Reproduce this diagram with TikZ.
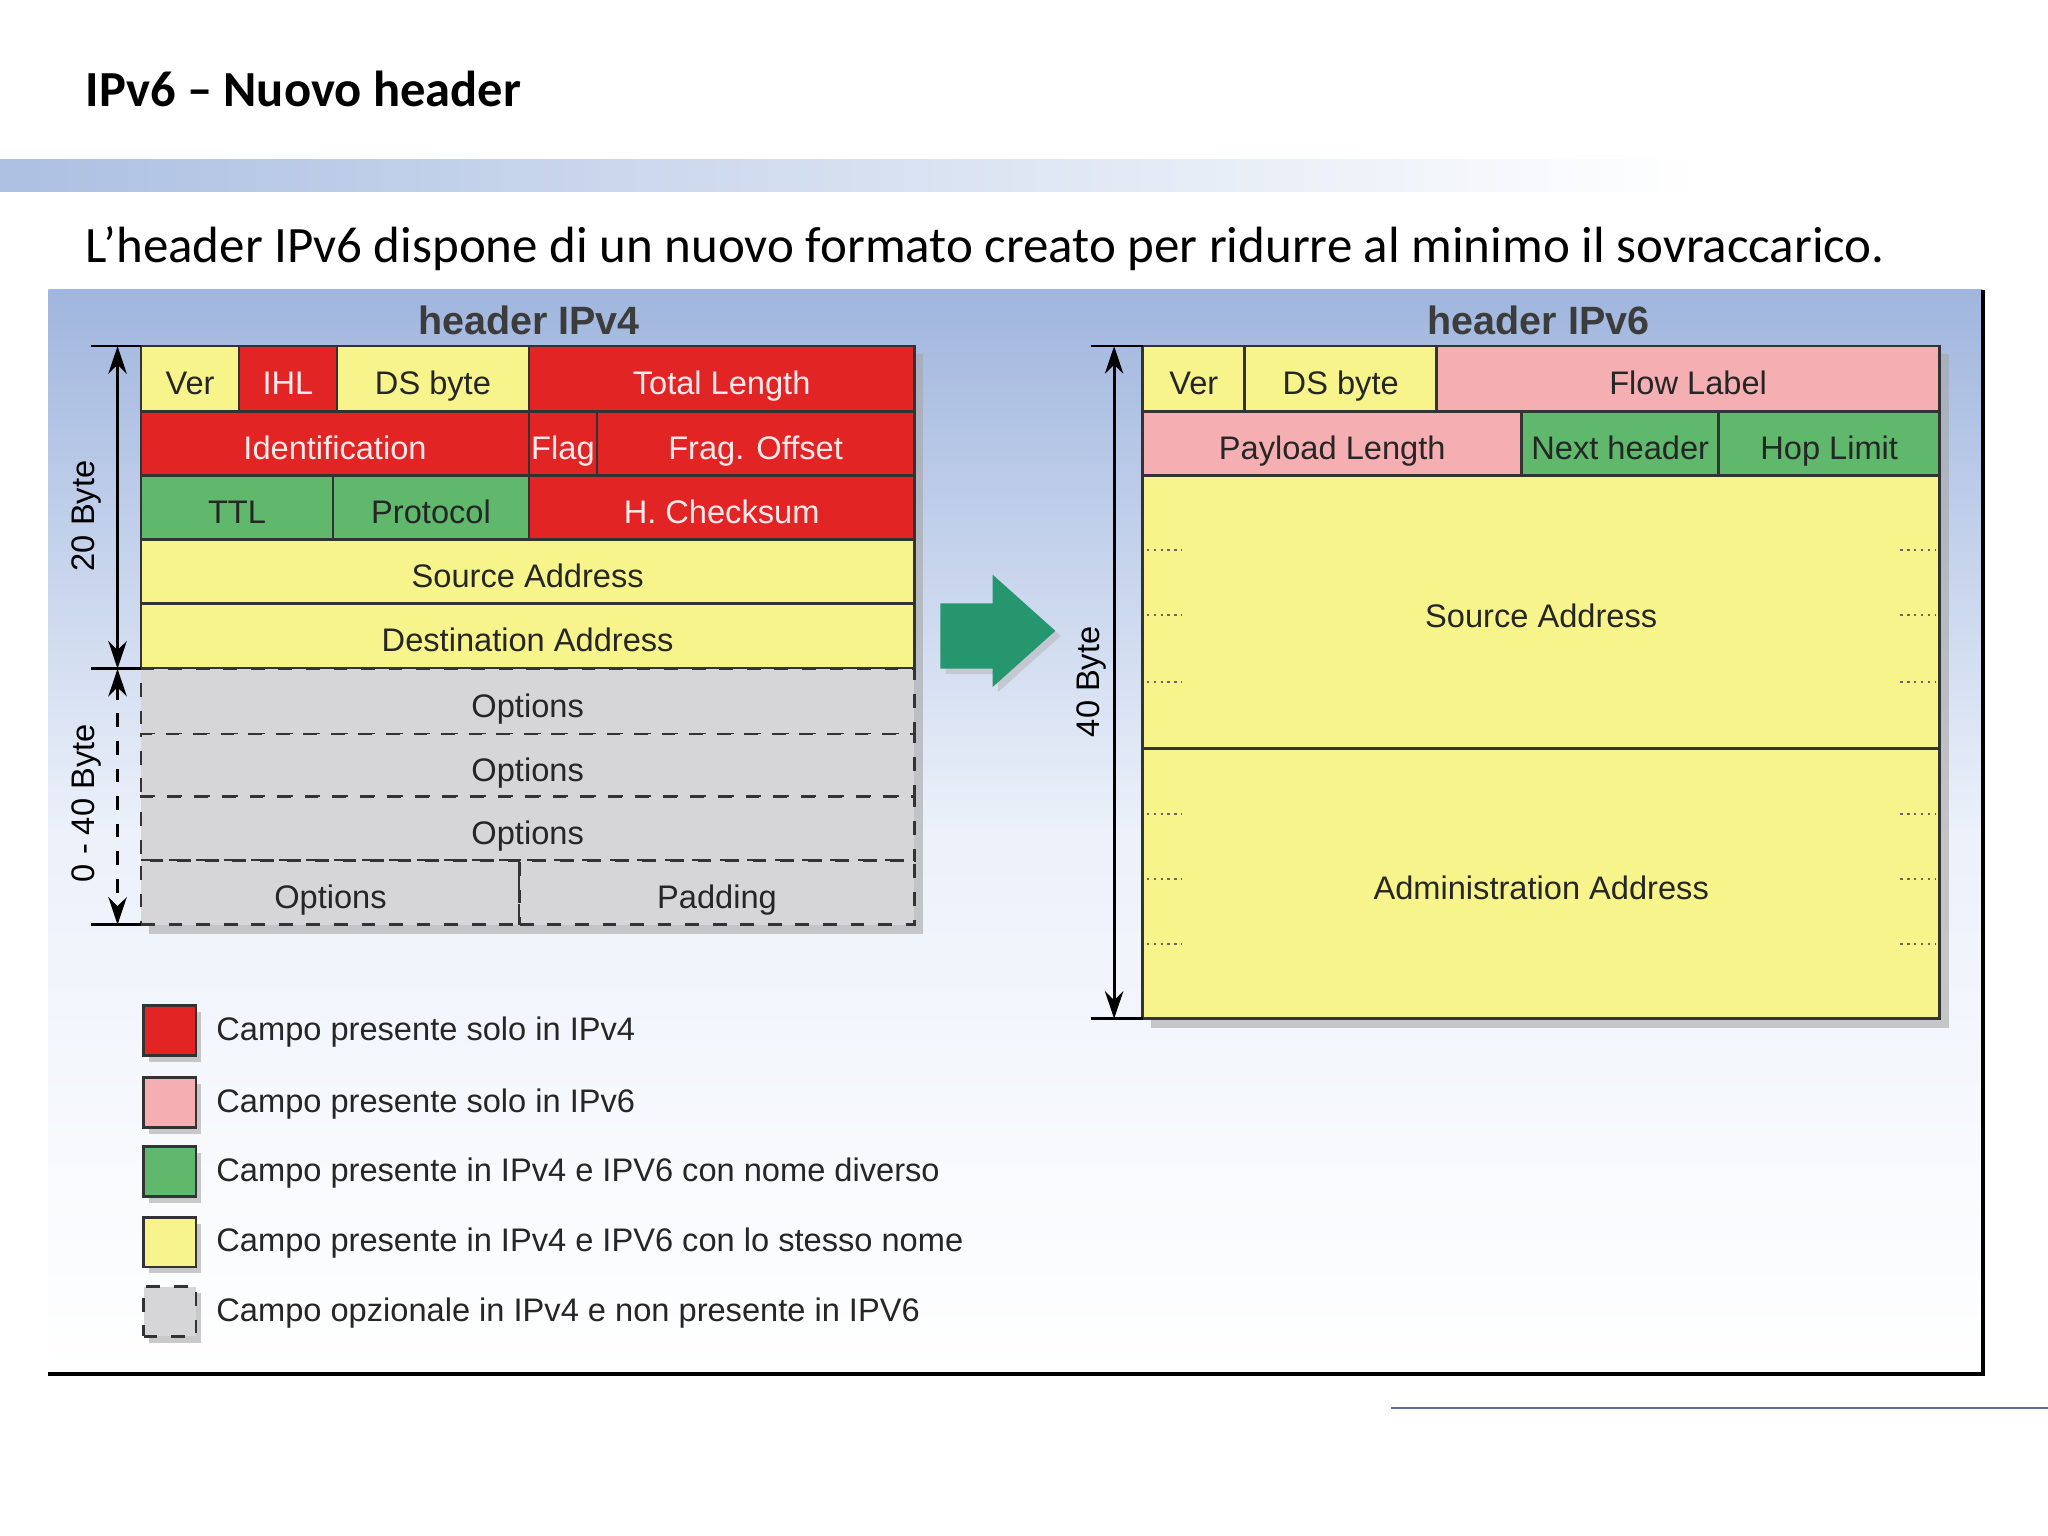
\documentclass[tikz,border=0pt]{standalone}
\usepackage{fontspec}
\setmainfont{Liberation Sans}
\newfontfamily\calib{Carlito}
\usetikzlibrary{arrows.meta,shadows}
\definecolor{cred}{RGB}{226,36,36}
\definecolor{cpink}{RGB}{245,175,178}
\definecolor{cgreen}{RGB}{96,184,108}
\definecolor{cyel}{RGB}{248,244,140}
\definecolor{cgray}{RGB}{214,214,216}
\definecolor{ctitle}{RGB}{60,60,60}
\definecolor{cbar}{RGB}{172,192,226}
\definecolor{cpanel}{RGB}{160,182,222}
\definecolor{cpanelmid}{RGB}{236,241,250}
\definecolor{cline}{RGB}{90,110,150}
\definecolor{carrow}{RGB}{38,150,110}
\tikzset{
 cellbox/.style={draw=black!80,line width=0.6pt,inner sep=0,outer sep=0,anchor=north west,font=\fontsize{7.1pt}{8pt}\selectfont,text=black!85,text height=1.6ex,text depth=0.3ex},
 redc/.style={cellbox,fill=cred,text=white!92!red},
 pinkc/.style={cellbox,fill=cpink},
 greenc/.style={cellbox,fill=cgreen},
 yelc/.style={cellbox,fill=cyel},
 grayc/.style={cellbox,fill=cgray,dashed},
 dimline/.style={black,line width=0.7pt,{Stealth[length=6pt,width=4pt]}-{Stealth[length=6pt,width=4pt]}},
 tick/.style={black,line width=0.6pt},
 legtext/.style={anchor=west,inner sep=0,font=\fontsize{7.1pt}{8pt}\selectfont,text=black!85},
 hdr/.style={font=\bfseries\fontsize{8.6pt}{10pt}\selectfont,text=ctitle},
 dotmark/.style={black!60,line width=0.5pt,densely dotted}
}
\newcommand{\cell}[7]{\node[#6,minimum width={(#4-#2)*0.01cm},minimum height={(#5-#3)*0.01cm}] (#1) at (#2,#3) {#7};}
\begin{document}
\begin{tikzpicture}[x=0.01cm,y=-0.01cm]
\useasboundingbox (0,0) rectangle (1568,1176);
\fill[white] (0,0) rectangle (1568,1176);
\node[anchor=west,inner sep=0,font=\calib\bfseries\fontsize{11pt}{13pt}\selectfont] (title) at (65,68) {IPv6 – Nuovo header};
\shade[left color=cbar,right color=white] (0,122) rectangle (1300,147);
\node[anchor=west,inner sep=0,font=\calib\fontsize{11.1pt}{13pt}\selectfont] (sub) at (65,190) {L’header IPv6 dispone di un nuovo formato creato per ridurre al minimo il sovraccarico.};
\shade[top color=cpanel,bottom color=white,middle color=cpanelmid] (37,222) rectangle (1518,1052);
\draw[black,line width=0.8pt] (1518,222) -- (1518,1052) -- (37,1052);
\draw[cline,line width=0.6pt] (1065,1078) -- (1568,1078);
\node[hdr] (h4) at (405,245) {header IPv4};
\node[hdr] (h6) at (1178,245) {header IPv6};
\fill[black!35,opacity=0.6] (114,271) rectangle (707,715);
\fill[black!35,opacity=0.6] (881,271) rectangle (1492,787);
\cell{ver4}{108}{265}{183}{315}{yelc}{Ver}
\cell{ihl}{183}{265}{258}{315}{redc}{IHL}
\cell{ds4}{258}{265}{405}{315}{yelc}{DS byte}
\cell{tl}{405}{265}{700}{315}{redc}{Total Length}
\cell{ident}{108}{315}{405}{364}{redc}{Identification}
\cell{flag}{405}{315}{457}{364}{redc}{Flag}
\cell{frag}{457}{315}{700}{364}{redc}{Frag. Offset}
\cell{ttl}{108}{364}{255}{413}{greenc}{TTL}
\cell{proto}{255}{364}{405}{413}{greenc}{Protocol}
\cell{chk}{405}{364}{700}{413}{redc}{H. Checksum}
\cell{src4}{108}{413}{700}{462}{yelc}{Source Address}
\cell{dst4}{108}{462}{700}{512}{yelc}{Destination Address}
\cell{opt1}{108}{512}{700}{562}{grayc}{Options}
\cell{opt2}{108}{562}{700}{610}{grayc}{Options}
\cell{opt3}{108}{610}{700}{659}{grayc}{Options}
\cell{opt4}{108}{659}{398}{708}{grayc}{Options}
\cell{pad}{398}{659}{700}{708}{grayc}{Padding}
\coordinate (a1) at (90,265); \coordinate (a2) at (90,512); \coordinate (a3) at (90,708);
\draw[tick] (70,265) -- (ver4.north west);
\draw[tick] (70,512) -- (opt1.north west);
\draw[tick] (70,708) -- (opt4.south west);
\draw[dimline] (a1) -- (a2);
\draw[dimline,dashed] (a2) -- (a3);
\node[rotate=90,font=\fontsize{7.1pt}{8pt}\selectfont] (d20) at (66,395) {20 Byte};
\node[rotate=90,font=\fontsize{7.1pt}{8pt}\selectfont] (d40a) at (66,615) {0 - 40 Byte};
\fill[black!30,opacity=0.5] (724,466) -- (764,466) -- (764,444) -- (812,487) -- (764,530) -- (764,516) -- (724,516) -- cycle;
\fill[carrow] (720,462) -- (760,462) -- (760,440) -- (808,483) -- (760,526) -- (760,512) -- (720,512) -- cycle;
\cell{ver6}{875}{265}{953}{315}{yelc}{Ver}
\cell{ds6}{953}{265}{1100}{315}{yelc}{DS byte}
\cell{flow}{1100}{265}{1485}{315}{pinkc}{Flow Label}
\cell{pay}{875}{315}{1165}{364}{pinkc}{Payload Length}
\cell{nh}{1165}{315}{1316}{364}{greenc}{Next header}
\cell{hop}{1316}{315}{1485}{364}{greenc}{Hop Limit}
\cell{src6}{875}{364}{1485}{573}{yelc}{Source Address}
\cell{adm}{875}{573}{1485}{780}{yelc}{Administration Address}
\foreach \yy in {421,471,522,623,673,723}{
 \draw[dotmark] (878,\yy) -- (905,\yy);
 \draw[dotmark] (1455,\yy) -- (1482,\yy);
}
\draw[tick] (835,265) -- (ver6.north west);
\draw[tick] (835,780) -- (adm.south west);
\coordinate (b1) at (853,265); \coordinate (b2) at (853,780);
\draw[dimline] (b1) -- (b2);
\node[rotate=90,font=\fontsize{7.1pt}{8pt}\selectfont] (d40) at (836,522) {40 Byte};
\foreach \yy/\sty/\txt [count=\i] in {770/redc/Campo presente solo in IPv4,825/pinkc/Campo presente solo in IPv6,878/greenc/Campo presente in IPv4 e IPV6 con nome diverso,932/yelc/Campo presente in IPv4 e IPV6 con lo stesso nome,985/grayc/Campo opzionale in IPv4 e non presente in IPV6}{
 \fill[black!35,opacity=0.6] (114,\yy+5) rectangle (154,\yy+43);
 \cell{lg\i}{110}{\yy}{150}{\yy+38}{\sty}{}
 \node[legtext] (lt\i) at (165,\yy+20) {\txt};
}
\end{tikzpicture}
\end{document}
